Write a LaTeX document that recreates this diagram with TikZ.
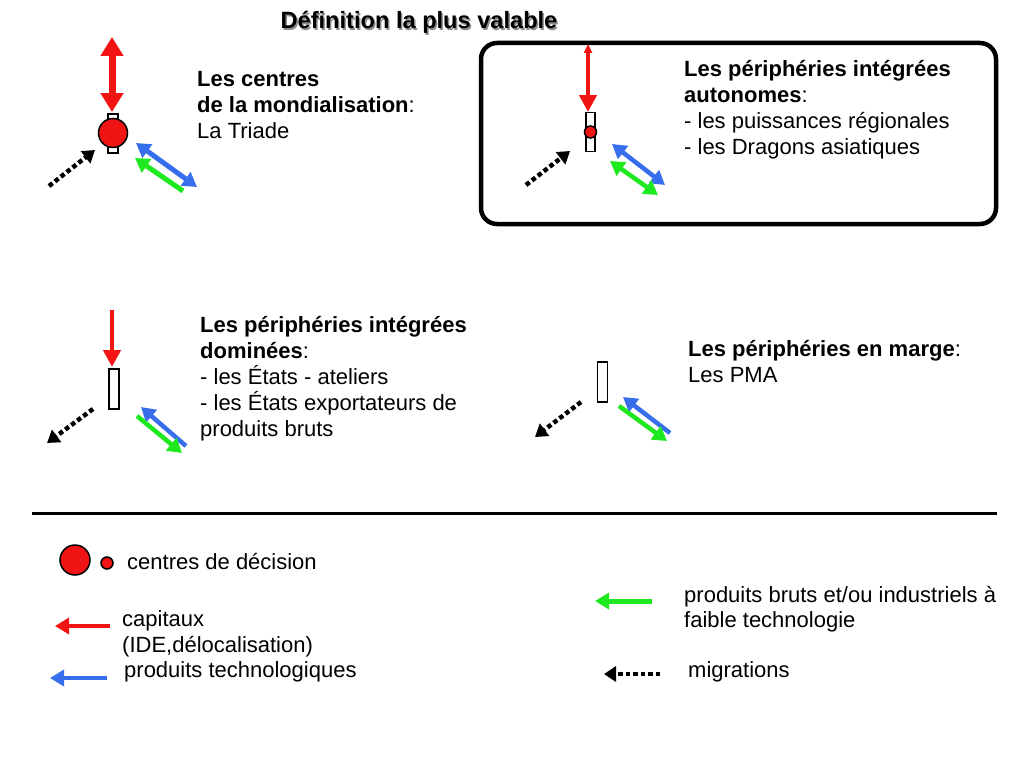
\documentclass[tikz,border=0pt]{standalone}
\usepackage{fontspec}
\setmainfont{Liberation Sans}
\usetikzlibrary{arrows.meta}
\definecolor{cred}{RGB}{240,20,20}
\definecolor{cblue}{RGB}{55,110,235}
\definecolor{cgreen}{RGB}{30,232,30}
\begin{document}
\begin{tikzpicture}[x=1pt,y=-1pt,
  txt/.style={anchor=base west,inner sep=0pt,font=\fontsize{22}{26}\selectfont},
  bar/.style={draw=black,fill=white,line width=1.8pt},
  dot/.style={draw=black,fill=cred,line width=1.5pt},
  bluearr/.style={draw=cblue,line width=5pt},
  greenarr/.style={draw=cgreen,line width=5pt},
  redarr/.style={draw=cred,line width=4.5pt},
  migr/.style={draw=black,line width=4.5pt,dash pattern=on 4.5pt off 3pt,-{Triangle[width=15pt,length=12pt]}},
  tipA/.tip={Triangle[width=16pt,length=14pt]},
  tipR/.tip={Triangle[width=17pt,length=17pt]}
]
\useasboundingbox (0,0) rectangle (1024,768);

% Title
\node[anchor=base,inner sep=0pt,text=black!45,font=\fontsize{23.6}{27}\selectfont\bfseries] at (420.5,30.5) {Définition la plus valable};
\node (title) [anchor=base,inner sep=0pt,font=\fontsize{23.6}{27}\selectfont\bfseries] at (419,29) {Définition la plus valable};

% ---------- Group 1 : Triade ----------
\node (b1) [bar,minimum width=10pt,minimum height=39pt,inner sep=0pt] at (113,133.5) {};
\node (c1) [dot,circle,minimum size=29pt,inner sep=0pt] at (113,133) {};
\coordinate (r1a) at (112,37);
\coordinate (r1b) at (112,112);
\draw[draw=cred,line width=7pt,{Triangle[width=22pt,length=19pt]}-{Triangle[width=22pt,length=19pt]}] (r1a) -- (r1b);
\coordinate (m1a) at (49,186);
\coordinate (m1b) at (95,150);
\draw[migr] (m1a) -- (m1b);
\coordinate (bl1a) at (136,143);
\coordinate (bl1b) at (197,187);
\draw[bluearr,tipA-tipA] (bl1a) -- (bl1b);
\coordinate (g1a) at (183,191);
\coordinate (g1b) at (135,158);
\draw[greenarr,-tipA] (g1a) -- (g1b);

\node (t1a) [txt,font=\fontsize{22}{26}\selectfont\bfseries] at (197,86) {Les centres};
\node (t1b) [txt] at (197,112) {\textbf{de la mondialisation}:};
\node (t1c) [txt] at (197,138) {La Triade};

% ---------- Group 2 : autonomes ----------
\draw[line width=4.5pt,rounded corners=16pt] (481,43) rectangle (996,224);
\node (b2) [bar,minimum width=9pt,minimum height=39pt,inner sep=0pt] at (590.5,132) {};
\node (c2) [dot,circle,minimum size=12pt,inner sep=0pt] at (590.5,132) {};
\coordinate (r2a) at (588,44);
\coordinate (r2b) at (588,112);
\draw[redarr,{Triangle[width=8pt,length=9pt]}-tipR] (r2a) -- (r2b);
\coordinate (m2a) at (526,185);
\coordinate (m2b) at (570,151);
\draw[migr] (m2a) -- (m2b);
\coordinate (bl2a) at (612,144);
\coordinate (bl2b) at (665,185);
\draw[bluearr,line width=4.5pt,tipA-tipA] (bl2a) -- (bl2b);
\coordinate (g2a) at (610,161);
\coordinate (g2b) at (658,195);
\draw[greenarr,line width=4.5pt,tipA-tipA] (g2a) -- (g2b);

\node (t2a) [txt,font=\fontsize{22}{26}\selectfont\bfseries] at (684,76) {Les périphéries intégrées};
\node (t2b) [txt] at (684,102) {\textbf{autonomes}:};
\node (t2c) [txt] at (684,128) {- les puissances régionales};
\node (t2d) [txt] at (684,154) {- les Dragons asiatiques};

% ---------- Group 3 : dominées ----------
\node (b3) [bar,minimum width=10pt,minimum height=40pt,inner sep=0pt] at (114,389) {};
\coordinate (r3a) at (112,310);
\coordinate (r3b) at (112,367);
\draw[redarr,-tipR] (r3a) -- (r3b);
\coordinate (m3a) at (93,409);
\coordinate (m3b) at (47,443);
\draw[migr] (m3a) -- (m3b);
\coordinate (bl3a) at (186,446);
\coordinate (bl3b) at (141,407);
\draw[bluearr,line width=4.5pt,-tipA] (bl3a) -- (bl3b);
\coordinate (g3a) at (137,416);
\coordinate (g3b) at (182,453);
\draw[greenarr,line width=4.5pt,-tipA] (g3a) -- (g3b);

\node (t3a) [txt,font=\fontsize{22}{26}\selectfont\bfseries] at (200,332) {Les périphéries intégrées};
\node (t3b) [txt] at (200,358) {\textbf{dominées}:};
\node (t3c) [txt] at (200,384) {- les États - ateliers};
\node (t3d) [txt] at (200,410) {- les États exportateurs de};
\node (t3e) [txt] at (200,436) {produits bruts};

% ---------- Group 4 : marge ----------
\node (b4) [bar,minimum width=10pt,minimum height=40pt,inner sep=0pt] at (602.5,382) {};
\coordinate (m4a) at (581,402);
\coordinate (m4b) at (535,437);
\draw[migr] (m4a) -- (m4b);
\coordinate (bl4a) at (670,433);
\coordinate (bl4b) at (623,397);
\draw[bluearr,line width=4.5pt,-tipA] (bl4a) -- (bl4b);
\coordinate (g4a) at (619,406);
\coordinate (g4b) at (667,441);
\draw[greenarr,line width=4.5pt,-tipA] (g4a) -- (g4b);

\node (t4a) [txt] at (688,356) {\textbf{Les périphéries en marge}:};
\node (t4b) [txt] at (688,382) {Les PMA};

% ---------- separator ----------
\coordinate (sepa) at (32,513);
\coordinate (sepb) at (997,513);
\draw[line width=3pt] (sepa) -- (sepb);

% ---------- legend ----------
\node (lc1) [dot,circle,minimum size=30pt,inner sep=0pt] at (75,560) {};
\node (lc2) [dot,circle,minimum size=12pt,inner sep=0pt] at (107,563) {};
\node (l1) [txt] at (127,569) {centres de décision};

\coordinate (lra) at (110,626);
\coordinate (lrb) at (55,626);
\draw[redarr,-tipA] (lra) -- (lrb);
\node (l2a) [txt] at (122,626) {capitaux};
\node (l2b) [txt] at (122,652) {(IDE,délocalisation)};
\node (l3) [txt] at (124,677) {produits technologiques};
\coordinate (lba) at (107,678);
\coordinate (lbb) at (50,678);
\draw[bluearr,line width=4.5pt,-tipA] (lba) -- (lbb);

\coordinate (lga) at (652,601);
\coordinate (lgb) at (595,601);
\draw[greenarr,-tipA] (lga) -- (lgb);
\node (l4a) [txt] at (684,602) {produits bruts et/ou industriels à};
\node (l4b) [txt] at (684,627) {faible technologie};

\coordinate (lma) at (660,674);
\coordinate (lmb) at (604,674);
\draw[migr] (lma) -- (lmb);
\node (l5) [txt] at (688,677) {migrations};
\end{tikzpicture}
\end{document}
